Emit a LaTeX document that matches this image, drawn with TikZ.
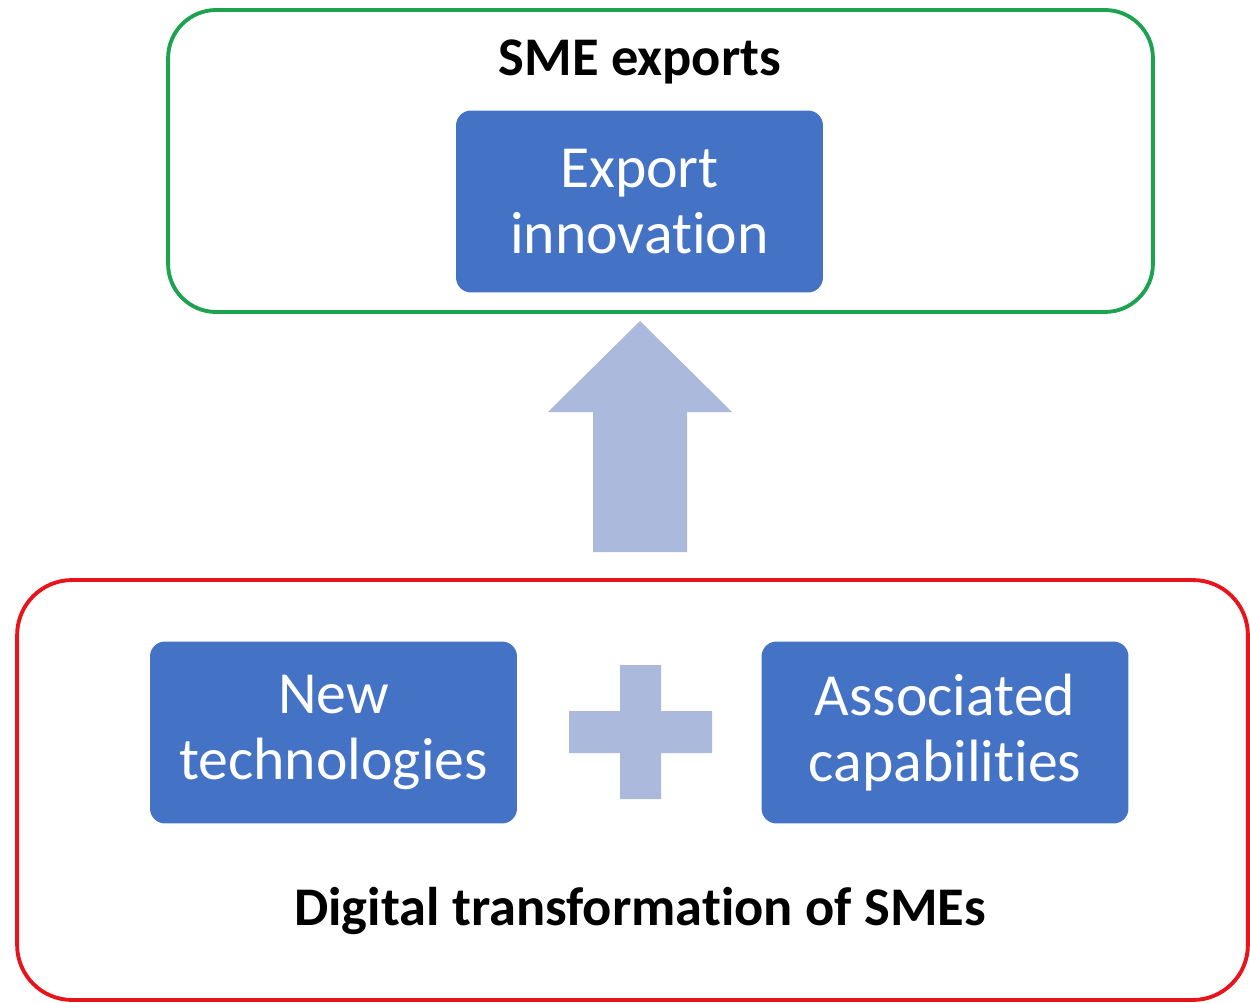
\documentclass[tikz,border=0pt]{standalone}
\usepackage{fontspec}
\setmainfont{Carlito}[Ligatures=NoCommon]
\usepackage{tikz}
\usetikzlibrary{positioning}
\definecolor{blau}{HTML}{4472C4}
\definecolor{hellblau}{HTML}{AAB9DC}
\definecolor{gruen}{HTML}{1DA24F}
\definecolor{rot}{HTML}{E8141B}

\begin{document}
\begin{tikzpicture}[x=0.02cm,y=-0.02cm,
    kasten/.style={fill=blau,text=white,rounded corners=0.3cm,align=center,
      minimum width=7.34cm,minimum height=3.64cm,inner sep=0pt,
      font=\fontsize{34}{38}\selectfont},
    titel/.style={font=\bfseries\fontsize{31}{36}\selectfont},
    rahmen/.style={draw,line width=2.2pt,inner sep=0pt}]
  \useasboundingbox (0,0) rectangle (1250,1003);
  %Rahmen
  \node[rahmen,draw=gruen,rounded corners=0.96cm,minimum width=19.7cm,minimum height=6.04cm] (exp) at (660.5,161) {};
  \node[rahmen,draw=rot,rounded corners=1.1cm,minimum width=24.62cm,minimum height=8.4cm] (dig) at (632.5,790) {};
  %Texte
  \node[titel] (SME) at (640,62) {SME exports};
  \node[titel] (DT) at (640,911) {Digital transformation of SMEs};
  %blaue Kaesten
  \node[kasten] (EI) at (639.5,201.5) {Export\\innovation};
  \node[kasten] (NT) at (333.5,732.5) {New\\technologies};
  \node[kasten] (AC) at (945,732.5) {Associated\\capabilities};
  %Pfeil nach oben
  \fill[hellblau] (640,321) -- (732,412) -- (687,412) -- (687,552) -- (593,552) -- (593,412) -- (548,412) -- cycle;
  %Pluszeichen
  \fill[hellblau] (620,665) -- (661,665) -- (661,711) -- (712,711) -- (712,753) -- (661,753) -- (661,799) -- (620,799) -- (620,753) -- (569,753) -- (569,711) -- (620,711) -- cycle;
\end{tikzpicture}
\end{document}
